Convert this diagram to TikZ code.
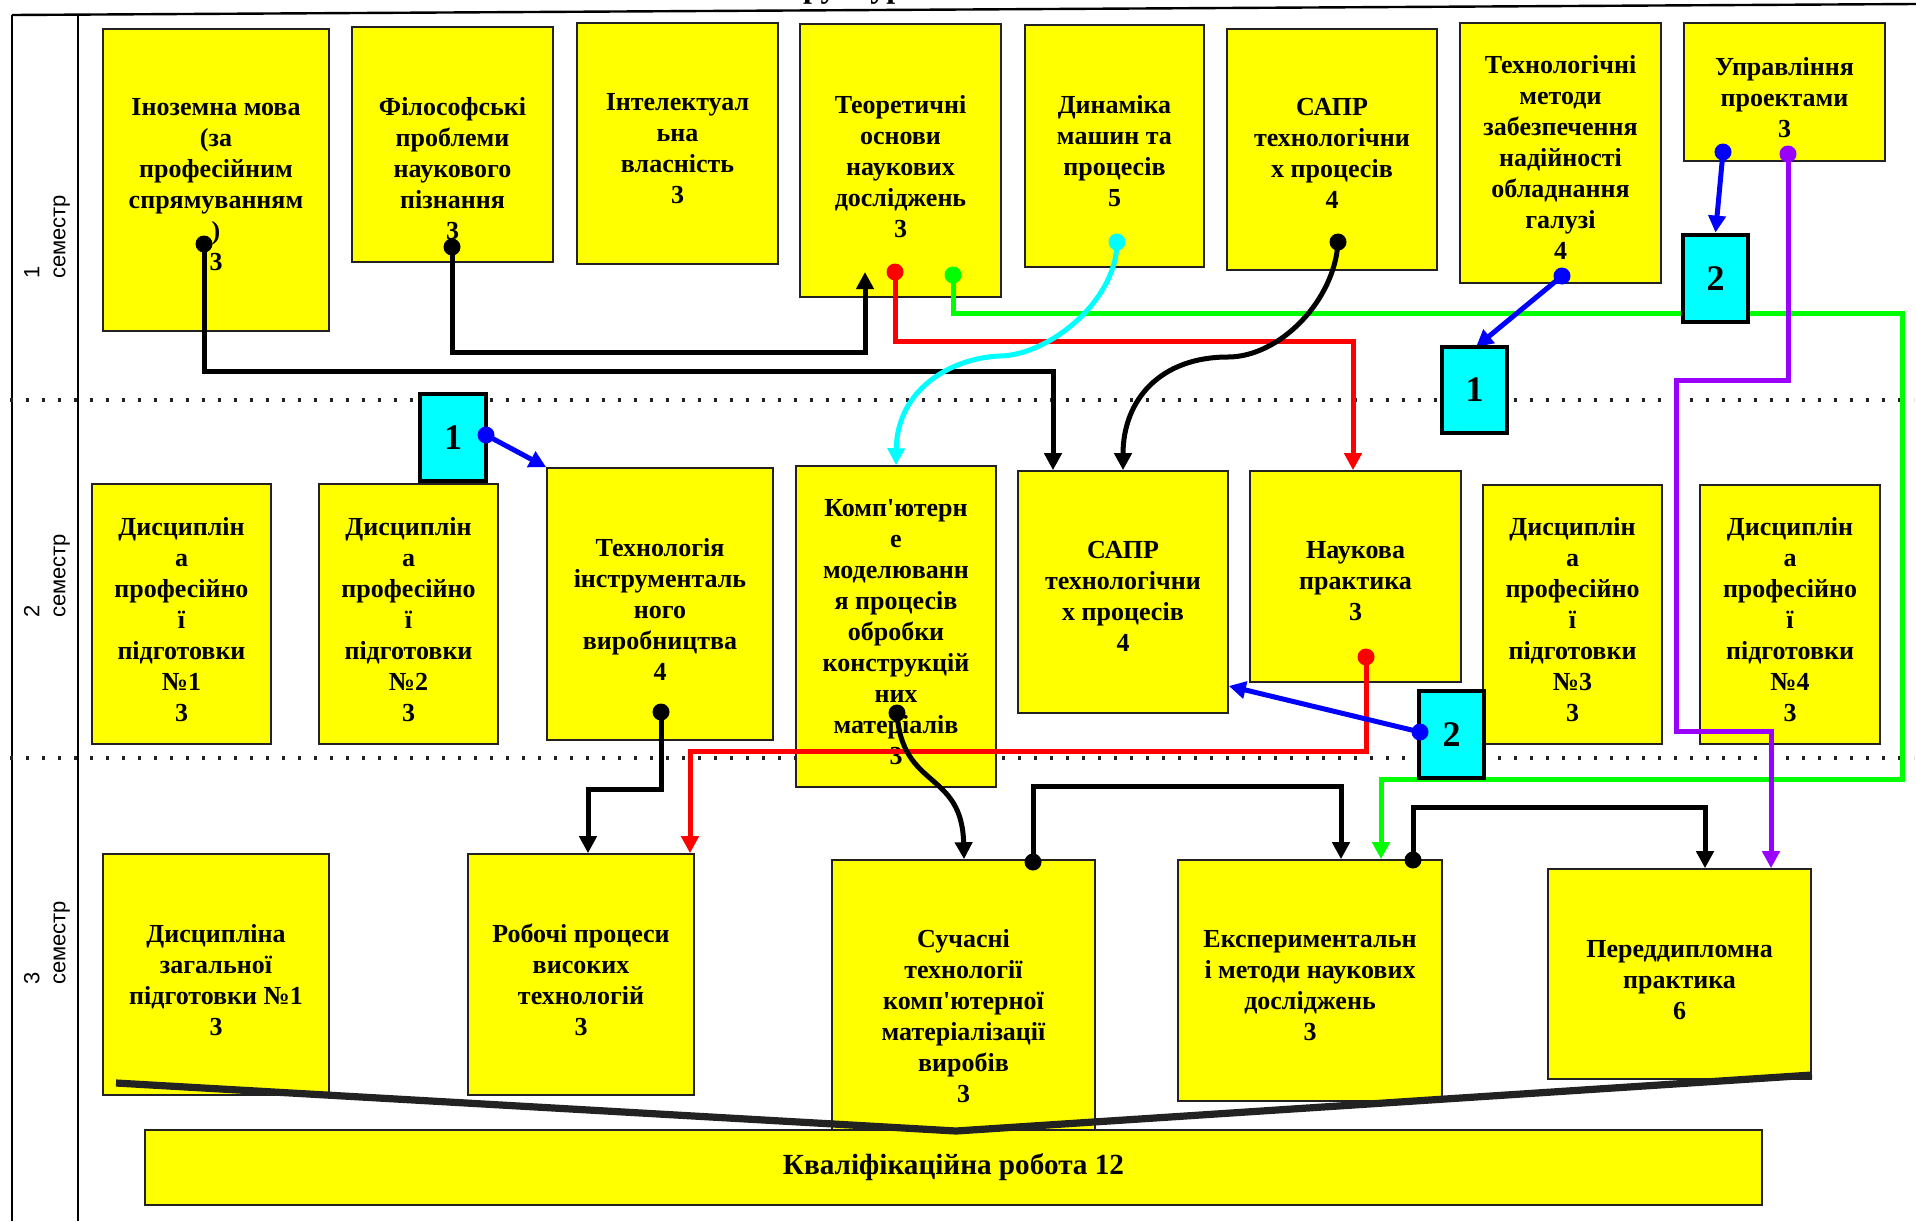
\documentclass[tikz,border=0pt]{standalone}
\usepackage{fontspec}
\setmainfont{Liberation Serif}[Ligatures=TeXOff]
\newfontfamily\semfont{Liberation Sans}
\usetikzlibrary{arrows.meta}
\definecolor{lgreen}{HTML}{00FF00}
\definecolor{vio}{HTML}{9900FF}
\definecolor{bblue}{HTML}{0000FF}
\definecolor{rred}{HTML}{FF0000}
\definecolor{ccyan}{HTML}{00FFFF}
\definecolor{yyel}{HTML}{FFFF00}
\definecolor{dgray}{HTML}{222222}
\newcommand{\ybox}[5]{%
  \pgfmathsetmacro\bw{(#4-#2)*0.5}%
  \pgfmathsetmacro\bh{(#5-#3)*0.5}%
  \node[ybx, minimum width=\bw pt, minimum height=\bh pt] (#1) at ({(#2+#4)/2},{(#3+#5)/2}) {};}
\newcommand{\cbox}[6]{%
  \pgfmathsetmacro\bw{(#4-#2)*0.5}%
  \pgfmathsetmacro\bh{(#5-#3)*0.5}%
  \node[cbx, minimum width=\bw pt, minimum height=\bh pt] (#1) at ({(#2+#4)/2},{(#3+#5)/2}) {#6};}
\begin{document}
\begin{tikzpicture}[x=0.5pt,y=-0.5pt,
  ybx/.style={draw=dgray, line width=0.8pt, fill=yyel, inner sep=0pt},
  cbx/.style={draw=black, line width=2.4pt, fill=ccyan, inner sep=0pt, font=\fontsize{18}{20}\selectfont\bfseries},
  lbl/.style={align=center, inner sep=0pt, font=\fontsize{13}{15.5}\selectfont\bfseries},
  con/.style={line width=2.5pt, -{Triangle[length=8.5pt,width=8.5pt]}},
  dotc/.style={circle, inner sep=0pt, minimum size=8.5pt},
  sep/.style={line width=1.6pt, dgray, dash pattern=on 1.6pt off 6.4pt},
  frame/.style={line width=0.8pt, black},
  sem/.style={rotate=90, align=left, inner sep=0pt, font=\semfont\fontsize{11}{13}\selectfont}]
\useasboundingbox (0,0) rectangle (1916,1221);

% title fragment and frame
\node[anchor=base west, inner sep=0pt, font=\fontsize{16}{18}\selectfont\bfseries] (title) at (764,-3) {Структура};
\draw[line width=1.2pt] (12,15) coordinate (tl) -- (1916,4) coordinate (tr);
\draw[frame] (12,15) -- (12,1221);
\draw[frame] (78,14) -- (78,1221);

% semester labels
\node[sem] (s1) at (47,237) {1\\семестр};
\node[sem] (s2) at (47,576) {2\\семестр};
\node[sem] (s3) at (47,943) {3\\семестр};

% separators
\draw[sep] (10,400) -- (1914,400);
\draw[sep] (10,758) -- (1914,758);

% row 1 boxes
\ybox{b1}{103}{29}{329}{331}
\ybox{b2}{352}{27}{553}{262}
\ybox{b3}{577}{23}{778}{264}
\ybox{b4}{800}{24}{1001}{297}
\ybox{b5}{1025}{25}{1204}{267}
\ybox{b6}{1227}{29}{1437}{270}
\ybox{b7}{1460}{23}{1661}{283}
\ybox{b8}{1684}{23}{1885}{161}
% row 2 boxes
\ybox{d1}{92}{484}{271}{744}
\ybox{d2}{319}{484}{498}{744}
\ybox{tech}{547}{468}{773}{740}
\ybox{comp}{796}{466}{996}{787}
\ybox{sapr}{1018}{471}{1228}{713}
\ybox{nauk}{1250}{471}{1461}{682}
\ybox{d3}{1483}{485}{1662}{744}
\ybox{d4}{1700}{485}{1880}{744}
% row 3 boxes
\ybox{z1}{103}{854}{329}{1095}
\ybox{rob}{468}{854}{694}{1095}
\ybox{such}{832}{860}{1095}{1140}
\ybox{exp}{1178}{860}{1442}{1101}
\ybox{pered}{1548}{869}{1811}{1079}

% texts
\node[lbl] (tb1) at (216,184.5) {Іноземна мова\\(за\\професійним\\спрямуванням\\)\\3};
\node[lbl] (tb2) at (452.5,168.5) {Філософські\\проблеми\\наукового\\пізнання\\3};
\node[lbl] (tb3) at (677.5,148.5) {Інтелектуал\\ьна\\власність\\3};
\node[lbl] (tb4) at (900.5,166.5) {Теоретичні\\основи\\наукових\\досліджень\\3};
\node[lbl] (tb5) at (1114.5,151.5) {Динаміка\\машин та\\процесів\\5};
\node[lbl] (tb6) at (1332,153.5) {САПР\\технологічни\\х процесів\\4};
\node[lbl] (tb7) at (1560.5,157.5) {Технологічні\\методи\\забезпечення\\надійності\\обладнання\\галузі\\4};
\node[lbl] (tb8) at (1784.5,97.5) {Управління\\проектами\\3};
\node[lbl] (td1) at (181.5,620) {Дисциплін\\а\\професійно\\ї\\підготовки\\№1\\3};
\node[lbl] (td2) at (408.5,620) {Дисциплін\\а\\професійно\\ї\\підготовки\\№2\\3};
\node[lbl] (ttech) at (660,609.5) {Технологія\\інструменталь\\ного\\виробництва\\4};
\node[lbl] (tcomp) at (896,632) {Комп'ютерн\\е\\моделюванн\\я процесів\\обробки\\конструкцій\\них\\матеріалів\\3};
\node[lbl] (tsapr) at (1123,596.5) {САПР\\технологічни\\х процесів\\4};
\node[lbl] (tnauk) at (1355.5,581.5) {Наукова\\практика\\3};
\node[lbl] (td3) at (1572.5,620) {Дисциплін\\а\\професійно\\ї\\підготовки\\№3\\3};
\node[lbl] (td4) at (1790,620) {Дисциплін\\а\\професійно\\ї\\підготовки\\№4\\3};
\node[lbl] (tz1) at (216,980) {Дисципліна\\загальної\\підготовки №1\\3};
\node[lbl] (trob) at (581,980) {Робочі процеси\\високих\\технологій\\3};
\node[lbl] (tsuch) at (963.5,1016) {Сучасні\\технології\\комп'ютерної\\матеріалізації\\виробів\\3};
\node[lbl] (texp) at (1310,986) {Експериментальн\\і методи наукових\\досліджень\\3};
\node[lbl] (tpered) at (1679.5,980) {Переддипломна\\практика\\6};
\ybox{kval}{145}{1130}{1762}{1205}
\node[lbl, font=\fontsize{14.6}{17}\selectfont\bfseries] (tkval) at (kval.center) {Кваліфікаційна робота 12};

% wedge
\coordinate (w1) at (116,1083);
\coordinate (w3) at (1812,1075);
\draw[line width=3.6pt, dgray] (w1) -- (956,1131) -- (w3);

% start dots (positions)
\coordinate (p1) at (204,244);
\coordinate (p2) at (452,247);
\coordinate (p3) at (895,272);
\coordinate (p4) at (953,275);
\coordinate (p5) at (1117,242);
\coordinate (p6) at (1338,242);
\coordinate (p7) at (1562,276);
\coordinate (p8) at (1723,152);
\coordinate (p9) at (1788,154);
\coordinate (p10) at (486,435);
\coordinate (p11) at (1420,732);
\coordinate (p12) at (1366,657);
\coordinate (p13) at (661,712);
\coordinate (p14) at (897,713);
\coordinate (p15) at (1033,862);
\coordinate (p16) at (1413,860);

% connectors
\draw[con, black] (p1) -- (204,371) -- (1053,371) -- (1053,371 |- sapr.north);
\draw[con, black] (p2) -- (452,352) -- (865,352) -- (865,272);
\draw[con, rred] (p3) -- (895,341) -- (1353,341) -- (1353,341 |- nauk.north);
\draw[con, lgreen] (p4) -- (953,313) -- (1902,313) -- (1902,779) -- (1381,779) -- (1381,779 |- exp.north);
\draw[con, ccyan] (p5) .. controls (1117,300) and (1050,355) .. (1000,356) .. controls (950,358) and (897,390) .. (comp.north);
\draw[con, black] (p6) .. controls (1335,300) and (1280,357) .. (1228,357) .. controls (1160,357) and (1123,400) .. (1123,400 |- sapr.north);
\draw[con, bblue] (p7) -- (1476,347);
\draw[con, vio] (p9) -- (1788,380) -- (1676,380) -- (1676,731) -- (1771,731) -- (1771,731 |- pered.north);
\draw[con, rred] (p12) -- (1366,751) -- (690,751) -- (690,751 |- rob.north);
\draw[con, black] (p13) -- (661,789) -- (588,789) -- (588,789 |- rob.north);
\draw[con, black] (p14) .. controls (902,790) and (962,770) .. (964,770 |- such.north);
\draw[con, black] (p15) -- (1033,786) -- (1341,786) -- (1341,786 |- exp.north);
\draw[con, black] (p16) -- (1413,807) -- (1705,807) -- (1705,807 |- pered.north);

% cyan boxes
\cbox{c2a}{1683}{235}{1748}{322}{2}
\cbox{c1a}{1442}{347}{1507}{433}{1}
\cbox{c1b}{420}{394}{486}{481}{1}
\cbox{c2b}{1419}{691}{1484}{778}{2}

\draw[con, bblue] (p8) -- (c2a.north);
\draw[con, bblue] (p10) -- (tech.north west);
\draw[con, bblue] (p11) -- (sapr.east |- 1228,686);

% dots
\foreach \p/\c in {p1/black,p2/black,p3/rred,p4/lgreen,p5/ccyan,p6/black,p7/bblue,p8/bblue,p9/vio,p10/bblue,p11/bblue,p12/rred,p13/black,p14/black,p15/black,p16/black}
  \node[dotc, fill=\c] (dot\p) at (\p) {};
\end{tikzpicture}
\end{document}
